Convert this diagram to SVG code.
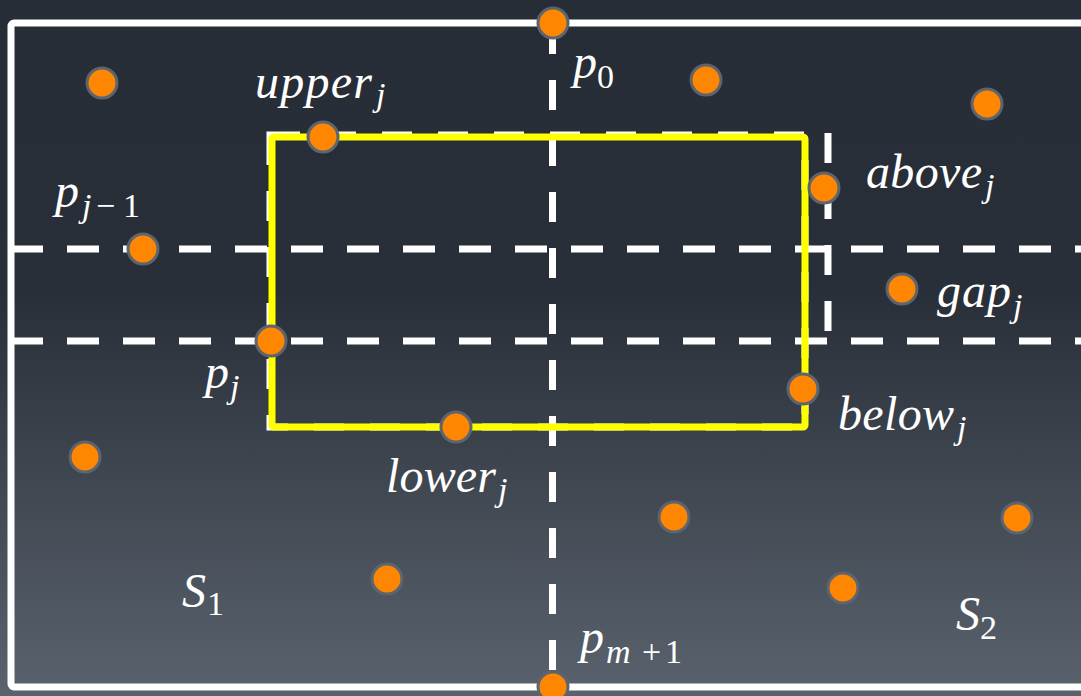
<svg xmlns="http://www.w3.org/2000/svg" width="1081" height="696" viewBox="0 0 1081 696">
  <defs>
    <linearGradient id="bg" x1="0" y1="0" x2="0" y2="1">
      <stop offset="0" stop-color="#262d36"/>
      <stop offset="0.42" stop-color="#282f38"/>
      <stop offset="1" stop-color="#5a626d"/>
    </linearGradient>
  </defs>
  <style>
    .pt { fill: #ff8600; stroke: #5c6470; stroke-width: 3; }
    .dash { stroke: #ffffff; stroke-width: 7; fill: none; }
    .lbl { font-family: "Liberation Serif", "DejaVu Serif", serif; font-style: italic; font-size: 48px; fill: #ffffff; }
    .sub { font-size: 34px; }
    .up { font-style: normal; }
  </style>
  <rect x="0" y="0" width="1081" height="696" fill="url(#bg)"/>
  <rect x="11" y="23" width="1090" height="664" rx="3" fill="none" stroke="#ffffff" stroke-width="7"/>
  <g id="connectors">
    <line class="dash" x1="552.5" y1="24" x2="552.5" y2="686" stroke-dasharray="30 26"/>
    <line class="dash" x1="11" y1="249" x2="1081" y2="249" stroke-dasharray="32 24"/>
    <line class="dash" x1="11" y1="341" x2="1081" y2="341" stroke-dasharray="32 24"/>
    <line class="dash" x1="828" y1="133" x2="828" y2="341" stroke-dasharray="30 26"/>
    <rect class="dash" x="270" y="135" width="535" height="292" stroke-dasharray="30 26"/>
    <rect x="272" y="137" width="533" height="290" rx="2" fill="none" stroke="#ffff00" stroke-width="7" stroke-linejoin="round"/>
  </g>
  <g id="n1"><circle class="pt" cx="102" cy="83" r="15"/></g>
  <g id="upper"><circle class="pt" cx="323" cy="137" r="15"/>
    <text class="lbl" x="255" y="98" textLength="117" lengthAdjust="spacing">upper</text><text class="lbl sub" x="376" y="106">j</text></g>
  <g id="pj1"><circle class="pt" cx="143" cy="249" r="15"/>
    <text class="lbl" x="55" y="207">p</text><text class="lbl sub" y="217"><tspan x="82">j</tspan><tspan class="up" x="96">−</tspan><tspan class="up" x="123">1</tspan></text></g>
  <g id="p0"><circle class="pt" cx="553" cy="23" r="15"/>
    <text class="lbl" x="573" y="78">p</text><text class="lbl sub up" x="597" y="88">0</text></g>
  <g id="n5"><circle class="pt" cx="706" cy="80" r="15"/></g>
  <g id="n6"><circle class="pt" cx="987" cy="104" r="15"/></g>
  <g id="above"><circle class="pt" cx="824" cy="188" r="15"/>
    <text class="lbl" x="866" y="188" textLength="116" lengthAdjust="spacing">above</text><text class="lbl sub" x="985" y="197">j</text></g>
  <g id="gap"><circle class="pt" cx="902" cy="289" r="15"/>
    <text class="lbl" x="937" y="307" textLength="74" lengthAdjust="spacing">gap</text><text class="lbl sub" x="1013" y="317">j</text></g>
  <g id="pj"><circle class="pt" cx="271" cy="341" r="15"/>
    <text class="lbl" x="205" y="388">p</text><text class="lbl sub" x="230" y="398">j</text></g>
  <g id="n10"><circle class="pt" cx="85" cy="457" r="15"/></g>
  <g id="lower"><circle class="pt" cx="456" cy="427" r="15"/>
    <text class="lbl" x="386" y="492" textLength="110" lengthAdjust="spacing">lower</text><text class="lbl sub" x="498" y="501">j</text></g>
  <g id="below"><circle class="pt" cx="803" cy="389" r="15"/>
    <text class="lbl" x="838" y="430" textLength="116" lengthAdjust="spacing">below</text><text class="lbl sub" x="957" y="439">j</text></g>
  <g id="n13"><circle class="pt" cx="674" cy="517" r="15"/></g>
  <g id="n14"><circle class="pt" cx="387" cy="579" r="15"/></g>
  <g id="n16"><circle class="pt" cx="1017" cy="518" r="15"/></g>
  <g id="n17"><circle class="pt" cx="843" cy="588" r="15"/></g>
  <g id="pm1"><circle class="pt" cx="553" cy="687" r="15"/>
    <text class="lbl" x="580" y="653">p</text><text class="lbl sub" y="663"><tspan x="606">m</tspan><tspan class="up" x="642">+</tspan><tspan class="up" x="665">1</tspan></text></g>
  <g id="S1"><text class="lbl" x="182" y="607">S</text><text class="lbl sub up" x="207" y="615">1</text></g>
  <g id="S2"><text class="lbl" x="956" y="630">S</text><text class="lbl sub up" x="980" y="639">2</text></g>
</svg>
